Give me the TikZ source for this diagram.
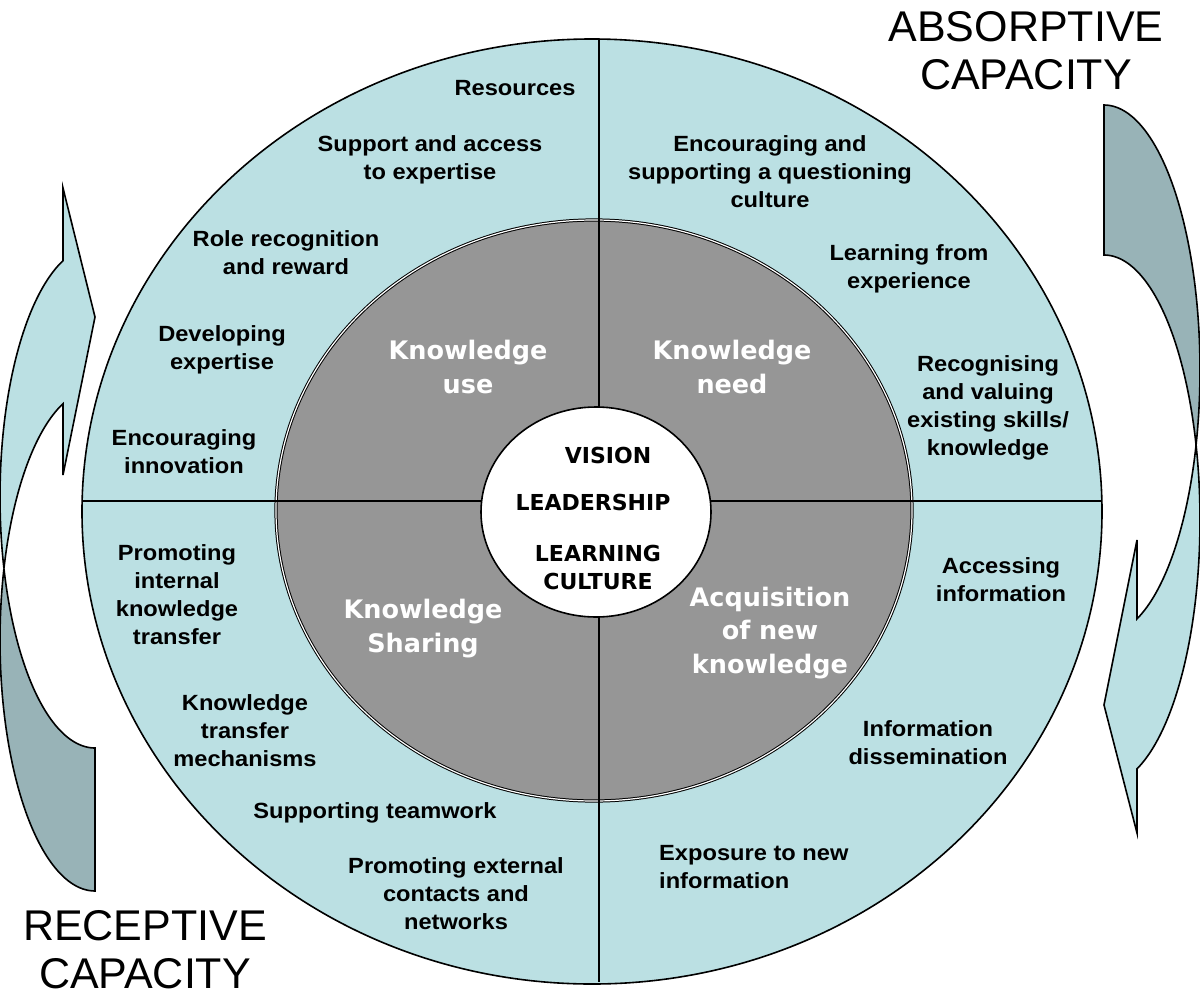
\documentclass[tikz,border=0pt]{standalone}
\usepackage{fontspec}
\newfontfamily\ringfont{Liberation Sans}
\newfontfamily\ringwide{Liberation Sans}[FakeStretch=1.075]
\newfontfamily\corefont{DejaVu Sans}
\definecolor{ringblue}{HTML}{BBE0E3}
\definecolor{darkteal}{HTML}{98B3B7}
\definecolor{midgray}{HTML}{969696}
\begin{document}
\begin{tikzpicture}[x=1bp,y=-1bp,
  ringtext/.style={font=\ringwide\bfseries\fontsize{22bp}{28bp}\selectfont, align=center, inner sep=0pt, anchor=base},
  coretext/.style={font=\corefont\bfseries\fontsize{25.5bp}{33.5bp}\selectfont, text=white, align=center, inner sep=0pt, anchor=base},
  hubtext/.style={font=\corefont\bfseries\fontsize{22bp}{28bp}\selectfont, align=center, inner sep=0pt, anchor=base},
  bigtext/.style={font=\ringfont\fontsize{43bp}{48bp}\selectfont, align=center, inner sep=0pt, anchor=base},
  outline/.style={draw=black, line width=1.6bp},
  divider/.style={draw=black, line width=1.3bp},
  front/.style={fill=ringblue, outline, line join=miter},
  back/.style={fill=darkteal, outline, line join=miter},
]
\useasboundingbox (0,0) rectangle (1200,1004);
\clip (0,0) rectangle (1200,1004);

% left curved arrow (receptive capacity)
\path[back] plot[domain=163.45:90, samples=60] ({95+95*cos(\x)},{497+251*sin(\x)})
  -- (95,891) -- plot[domain=90:196.55, samples=60] ({95+95*cos(\x)},{640+251*sin(\x)}) -- cycle;
\path[front] plot[domain=250.3:163.45, samples=60] ({95+95*cos(\x)},{497+251*sin(\x)})
  -- plot[domain=196.55:250.3, samples=60] ({95+95*cos(\x)},{640+251*sin(\x)})
  -- (63,475) -- (95,317) -- (63,188) -- cycle;

% right curved arrow (absorptive capacity)
\path[back] plot[domain=-90:16.44, samples=60] ({1104+96*cos(\x)},{370+265*sin(\x)})
  -- plot[domain=-16.44:-90, samples=60] ({1104+96*cos(\x)},{520+265*sin(\x)}) -- cycle;
\path[front] plot[domain=-16.44:69.9, samples=60] ({1104+96*cos(\x)},{520+265*sin(\x)})
  -- (1137,833) -- (1104,705) -- (1137,540)
  -- plot[domain=69.9:16.44, samples=60] ({1104+96*cos(\x)},{370+265*sin(\x)}) -- cycle;

% rings
\path[fill=ringblue, outline] (592,511.5) ellipse [x radius=510bp, y radius=472.5bp];
\path[fill=midgray, draw=black, line width=1bp, double=white, double distance=1.2bp] (594,510.5) ellipse [x radius=318bp, y radius=290.5bp];
\draw[divider] (82,501) -- (1102,501);
\draw[divider] (599,39) -- (599,982);
\path[fill=white, outline] (596,512) ellipse [x radius=115bp, y radius=105bp];

% hub (anchor base = baseline of last line)
\node[hubtext] (vision) at (608,463) {VISION};
\node[hubtext] (leader) at (593,510) {LEADERSHIP};
\node[hubtext] (culture) at (598,589) {LEARNING\\CULTURE};

% core quadrants
\node[coretext] (kuse) at (468,393) {Knowledge\\use};
\node[coretext] (kneed) at (732,393) {Knowledge\\need};
\node[coretext] (kshare) at (423,652) {Knowledge\\Sharing};
\node[coretext] (kacq) at (770,673) {Acquisition\\of new\\knowledge};

% ring texts
\node[ringtext] (t1) at (515,95) {Resources};
\node[ringtext] (t2) at (430,179) {Support and access\\to expertise};
\node[ringtext] (t3) at (286,274) {Role recognition\\and reward};
\node[ringtext] (t4) at (222,369) {Developing\\expertise};
\node[ringtext] (t5) at (184,473) {Encouraging\\innovation};
\node[ringtext] (t6) at (770,207) {Encouraging and\\supporting a questioning\\culture};
\node[ringtext] (t7) at (909,288) {Learning from\\experience};
\node[ringtext] (t8) at (988,455) {Recognising\\and valuing\\existing skills/\\knowledge};
\node[ringtext] (t9) at (177,644) {Promoting\\internal\\knowledge\\transfer};
\node[ringtext] (t10) at (245,766) {Knowledge\\transfer\\mechanisms};
\node[ringtext] (t11) at (375,818) {Supporting teamwork};
\node[ringtext] (t12) at (456,929) {Promoting external\\contacts and\\networks};
\node[ringtext] (t13) at (1001,601) {Accessing\\information};
\node[ringtext] (t14) at (928,764) {Information\\dissemination};
\node[ringtext, align=left, anchor=base west] (t15) at (659,888) {Exposure to new\\information};

% side titles
\node[bigtext] (absorb) at (1026,89.5) {ABSORPTIVE\\CAPACITY};
\node[bigtext] (recept) at (145,988.5) {RECEPTIVE\\CAPACITY};
\end{tikzpicture}
\end{document}
